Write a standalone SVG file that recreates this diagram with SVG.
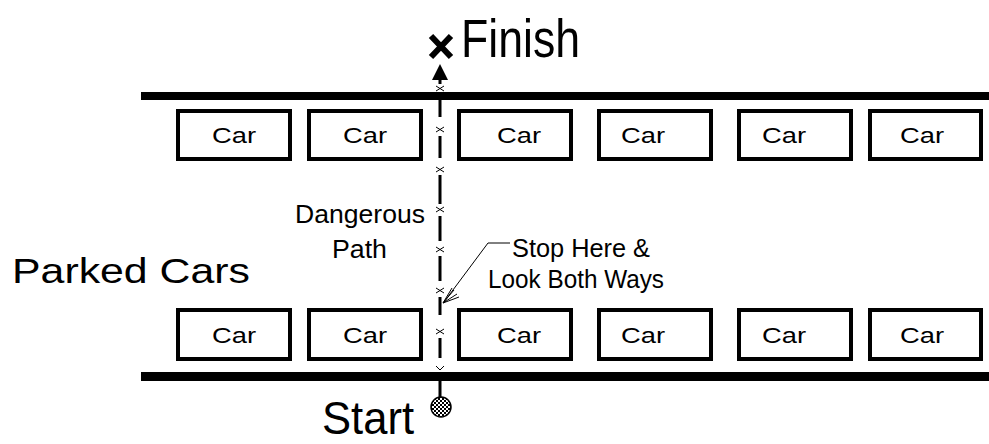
<svg xmlns="http://www.w3.org/2000/svg" width="989" height="444" viewBox="0 0 989 444">
<style>
.car rect{fill:#fff;stroke:#000;stroke-width:4}
.car text{font-family:"Liberation Sans",Arial,sans-serif;font-size:22px;text-anchor:middle;fill:#000}
.lbl{font-family:"Liberation Sans",Arial,sans-serif;fill:#000}
.road{fill:#000}
.dash{stroke:#000;stroke-width:3}
.xm{stroke:#000;stroke-width:1;fill:none}
</style>
<defs>
<pattern id="hatch" width="4" height="4" patternUnits="userSpaceOnUse">
<rect width="4" height="4" fill="#fff"/>
<rect x="0" y="0" width="2" height="2" fill="#000"/>
<rect x="2" y="2" width="2" height="2" fill="#000"/>
</pattern>
</defs>
<rect width="989" height="444" fill="#fff"/>
<g id="roads">
<rect class="road" x="141" y="92" width="848" height="8"/>
<rect class="road" x="141" y="372" width="848" height="9"/>
</g>
<g id="top-cars">
<g class="car" id="car-t1"><rect x="178" y="111" width="112" height="48"/><text x="234" y="143" textLength="44" lengthAdjust="spacingAndGlyphs">Car</text></g>
<g class="car" id="car-t2"><rect x="309" y="111" width="112" height="48"/><text x="365" y="143" textLength="44" lengthAdjust="spacingAndGlyphs">Car</text></g>
<g class="car" id="car-t3"><rect x="459" y="111" width="112" height="48"/><text x="519" y="143" textLength="44" lengthAdjust="spacingAndGlyphs">Car</text></g>
<g class="car" id="car-t4"><rect x="599" y="111" width="112" height="48"/><text x="643" y="143" textLength="44" lengthAdjust="spacingAndGlyphs">Car</text></g>
<g class="car" id="car-t5"><rect x="739" y="111" width="112" height="48"/><text x="784" y="143" textLength="44" lengthAdjust="spacingAndGlyphs">Car</text></g>
<g class="car" id="car-t6"><rect x="870" y="111" width="111" height="48"/><text x="922" y="143" textLength="44" lengthAdjust="spacingAndGlyphs">Car</text></g>
</g>
<g id="bottom-cars">
<g class="car" id="car-b1"><rect x="178" y="310" width="112" height="49"/><text x="234" y="343" textLength="44" lengthAdjust="spacingAndGlyphs">Car</text></g>
<g class="car" id="car-b2"><rect x="309" y="310" width="112" height="49"/><text x="365" y="343" textLength="44" lengthAdjust="spacingAndGlyphs">Car</text></g>
<g class="car" id="car-b3"><rect x="459" y="310" width="112" height="49"/><text x="519" y="343" textLength="44" lengthAdjust="spacingAndGlyphs">Car</text></g>
<g class="car" id="car-b4"><rect x="599" y="310" width="112" height="49"/><text x="643" y="343" textLength="44" lengthAdjust="spacingAndGlyphs">Car</text></g>
<g class="car" id="car-b5"><rect x="739" y="310" width="112" height="49"/><text x="784" y="343" textLength="44" lengthAdjust="spacingAndGlyphs">Car</text></g>
<g class="car" id="car-b6"><rect x="870" y="310" width="111" height="49"/><text x="922" y="343" textLength="44" lengthAdjust="spacingAndGlyphs">Car</text></g>
</g>
<g id="connectors">
<path class="dash" d="M440,79 V84 M440,100 V117 M440,136 V158 M440,175 V204 M440,216 V241 M440,256 V281 M440,297 V315 M440,338 V358 M440,381 V397"/>
<path d="M440,64 L432,80 L448,80 Z" fill="#000"/>
<path class="xm" d="M436,86 L444,91 M444,86 L436,91 M436,127 L444,132 M444,127 L436,132 M436,167 L444,172 M444,167 L436,172 M436,207 L444,212 M444,207 L436,212 M436,247 L444,252 M444,247 L436,252 M436,288 L444,293 M444,288 L436,293 M436,329 L444,334 M444,329 L436,334 M436,366 L440,370 L444,366"/>
<path d="M510,243 H488 L444,302" stroke="#000" stroke-width="1" fill="none"/>
<path d="M443,303 L454,290 M443,303 L457,294 M443,303 L452,288 M443,303 L459,297" stroke="#000" stroke-width="1" fill="none"/>
</g>
<g id="finish">
<path d="M431,36 L451,57 M451,36 L431,57" stroke="#000" stroke-width="6"/>
<text class="lbl" x="461" y="57" font-size="54" textLength="119" lengthAdjust="spacingAndGlyphs">Finish</text>
</g>
<g id="start">
<circle cx="441" cy="407" r="10" fill="url(#hatch)" stroke="#000" stroke-width="1.5"/>
<text class="lbl" x="322" y="434" font-size="46" textLength="92" lengthAdjust="spacingAndGlyphs">Start</text>
</g>
<g id="labels">
<text class="lbl" x="12" y="283" font-size="35" textLength="238" lengthAdjust="spacingAndGlyphs">Parked Cars</text>
<text class="lbl" x="295" y="223" font-size="25" textLength="130" lengthAdjust="spacingAndGlyphs">Dangerous</text>
<text class="lbl" x="332" y="258" font-size="25" textLength="55" lengthAdjust="spacingAndGlyphs">Path</text>
<text class="lbl" x="512" y="257" font-size="25" textLength="138" lengthAdjust="spacingAndGlyphs">Stop Here &amp;</text>
<text class="lbl" x="488" y="288" font-size="25" textLength="176" lengthAdjust="spacingAndGlyphs">Look Both Ways</text>
</g>
</svg>
